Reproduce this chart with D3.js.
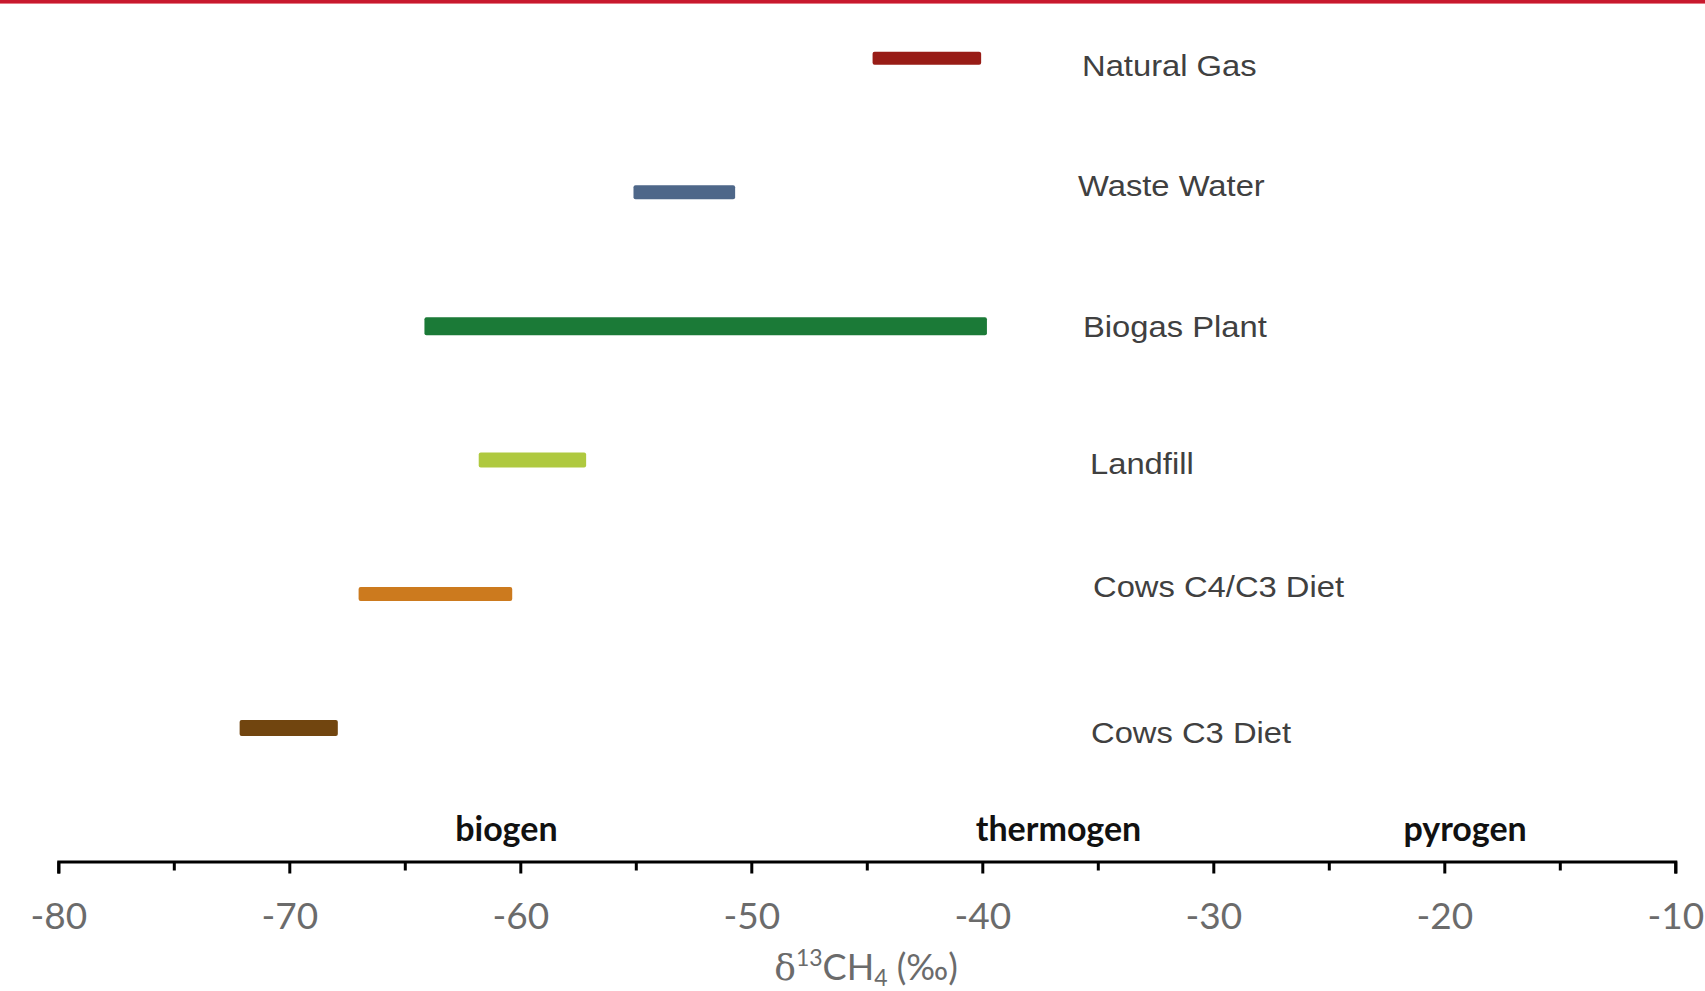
<!DOCTYPE html>
<html>
<head>
<meta charset="utf-8">
<script src="https://cdn.jsdelivr.net/npm/d3@7"></script>
<style>
  html, body { margin: 0; padding: 0; background: #ffffff; }
  svg { display: block; }
</style>
</head>
<body>
<svg id="chart" width="1705" height="991"></svg>
<script>
// Methane sources and their δ13C ranges (‰)
const categories = ["Natural Gas", "Waste Water", "Biogas Plant", "Landfill", "Cows C4/C3 Diet", "Cows C3 Diet"];
const rangeLow  = [-44.75, -55.1, -64.15, -61.8, -67.0, -72.15];
const rangeHigh = [-40.05, -50.7, -39.8, -57.15, -60.35, -67.9];
const barColors = ["#981c16", "#4e6789", "#1b7a37", "#afc93f", "#cc7a1e", "#71450f"];

// Axis ticks (every 5 ‰, labelled every 10 ‰)
const tickValues = [-80, -75, -70, -65, -60, -55, -50, -45, -40, -35, -30, -25, -20, -15, -10];
const tickLabels = ["-80", "", "-70", "", "-60", "", "-50", "", "-40", "", "-30", "", "-20", "", "-10"];

// Origin classes along the axis
const regionNames  = ["biogen", "thermogen", "pyrogen"];
const regionCenter = [-60.6, -36.7, -19.1];

// Layout / styling
const barThickness = [13, 14, 18, 15, 14, 16];
const labelX  = [1082, 1078, 1083, 1090, 1093, 1091];
const labelDy = [18, 4, 11, 14, 3, 15];

const svg = d3.select("#chart");
const W = 1705, H = 991;

svg.append("rect").attr("width", W).attr("height", H).attr("fill", "#ffffff");

// Red rule across the top
svg.append("rect").attr("x", 0).attr("y", 0).attr("width", W).attr("height", 3).attr("fill", "#c8192e");
svg.append("rect").attr("x", 0).attr("y", 3).attr("width", W).attr("height", 1).attr("fill", "#e47a86");

const x = d3.scaleLinear().domain([-80, -10]).range([58.3, 1675.3]);
const y = d3.scalePoint().domain(categories).range([58.3, 728]);

// Range bars
const rows = categories.map((c, i) => ({ name: c, lo: rangeLow[i], hi: rangeHigh[i], color: barColors[i], t: barThickness[i], lx: labelX[i], ldy: labelDy[i] }));

svg.append("g").selectAll("rect")
  .data(rows)
  .join("rect")
  .attr("x", d => x(d.lo))
  .attr("width", d => x(d.hi) - x(d.lo))
  .attr("y", d => y(d.name) - d.t / 2)
  .attr("height", d => d.t)
  .attr("rx", 2)
  .attr("fill", d => d.color);

// Source names
svg.append("g").selectAll("text")
  .data(rows)
  .join("text")
  .attr("transform", d => `translate(${d.lx},${y(d.name) + d.ldy}) scale(1.11,1)`)
  .attr("font-family", "'Liberation Sans', Arial, sans-serif")
  .attr("font-size", 29.5)
  .attr("fill", "#404040")
  .text(d => d.name);

// x axis
const axisY = 861.5;
const axis = d3.axisBottom(x)
  .tickValues(tickValues)
  .tickSize(12)
  .tickSizeOuter(12)
  .tickFormat((d, i) => tickLabels[i]);

const gAxis = svg.append("g").attr("transform", `translate(0,${axisY})`).call(axis);
gAxis.select(".domain").attr("stroke", "#000").attr("stroke-width", 3).attr("fill", "none");
gAxis.selectAll(".tick line")
  .attr("stroke", "#000")
  .attr("stroke-width", 3)
  .attr("y2", (d, i) => tickLabels[i] ? 12 : 9);
gAxis.selectAll(".tick text")
  .attr("y", 67.5)
  .attr("dy", 0)
  .attr("font-family", "Lato, 'Open Sans', sans-serif")
  .attr("font-size", 37)
  .attr("fill", "#6b6b6b");

// Origin class labels above the axis
svg.append("g").selectAll("text")
  .data(regionNames)
  .join("text")
  .attr("x", (d, i) => x(regionCenter[i]))
  .attr("y", 841)
  .attr("text-anchor", "middle")
  .attr("font-family", "Lato, 'Open Sans', sans-serif")
  .attr("font-weight", "bold")
  .attr("font-size", 34)
  .attr("fill", "#111")
  .text(d => d);

// Axis title: δ13CH4 (‰)
const title = svg.append("text")
  .attr("x", 866)
  .attr("y", 980)
  .attr("text-anchor", "middle")
  .attr("font-family", "Lato, 'DejaVu Sans', sans-serif")
  .attr("font-size", 36)
  .attr("fill", "#6b6b6b");
title.append("tspan").attr("font-family", "'DejaVu Serif', serif").text("δ");
title.append("tspan").attr("font-size", 23).attr("dy", -14).text("13");
title.append("tspan").attr("dy", 14).text("CH");
title.append("tspan").attr("font-size", 23).attr("dy", 6).text("4");
title.append("tspan").attr("dy", -6).text(" (‰)");
</script>
</body>
</html>
